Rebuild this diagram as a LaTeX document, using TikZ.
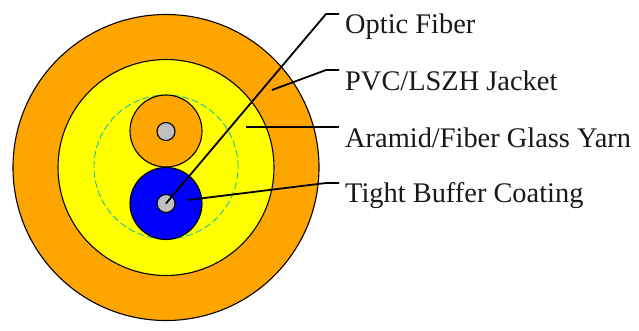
\documentclass[tikz,border=0pt]{standalone}
\usepackage{fontspec}
\setmainfont{Liberation Serif}
\definecolor{jacket}{RGB}{255,165,0}
\definecolor{yarn}{RGB}{255,255,0}
\definecolor{buffer}{RGB}{0,0,255}
\definecolor{glass}{RGB}{192,192,192}
\definecolor{ripcord}{RGB}{0,190,200}
\tikzset{
  layer/.style={circle,draw=black,line width=1.1pt,inner sep=0pt,outer sep=0pt},
  leader/.style={draw=black,line width=1.8pt,line join=round},
  callout/.style={anchor=base west,inner sep=0pt,font=\fontsize{28.4}{32}\selectfont,text=black!90}
}
\begin{document}
\begin{tikzpicture}[x=1pt,y=-1pt]
  \useasboundingbox (0,0) rectangle (639,330);
  % cable cross-section, outermost layer first
  \node[layer,fill=jacket,minimum size=306pt] (outer) at (166,167.5) {};
  \node[layer,fill=yarn,minimum size=216pt] (inner) at (166,167.5) {};
  \node[circle,draw=ripcord,line width=0.8pt,dash pattern=on 7pt off 3pt,inner sep=0pt,minimum size=144pt] (tube) at (166,167) {};
  % the two tight-buffered fibres
  \node[layer,fill=jacket,minimum size=72pt] (upper) at (166,131) {};
  \node[layer,fill=buffer,minimum size=72pt] (lower) at (166,203.5) {};
  \node[layer,fill=glass,minimum size=18pt] (uppercore) at (166,131.5) {};
  \node[layer,fill=glass,minimum size=18pt] (lowercore) at (166,203.5) {};
  % labels
  \node[callout] (l1) at (345,33) {Optic Fiber};
  \node[callout] (l2) at (345,90) {PVC/LSZH Jacket};
  \node[callout] (l3) at (345,147) {Aramid/Fiber Glass Yarn};
  \node[callout] (l4) at (345,202.5) {Tight Buffer Coating};
  % leader lines
  \coordinate (e1) at (339,14);
  \coordinate (e2) at (339,70);
  \coordinate (e3) at (339,127);
  \coordinate (e4) at (339,183);
  \coordinate (k1) at (326,14);
  \coordinate (k2) at (326,70);
  \coordinate (k4) at (326,183);
  \coordinate (s2) at (272,90);
  \coordinate (s3) at (246,127);
  \coordinate (s4) at (188,200);
  \path[leader] (lowercore.center) -- (k1) -- (e1);
  \path[leader] (s2) -- (k2) -- (e2);
  \path[leader] (s3) -- (e3);
  \path[leader] (s4) -- (k4) -- (e4);
\end{tikzpicture}
\end{document}
